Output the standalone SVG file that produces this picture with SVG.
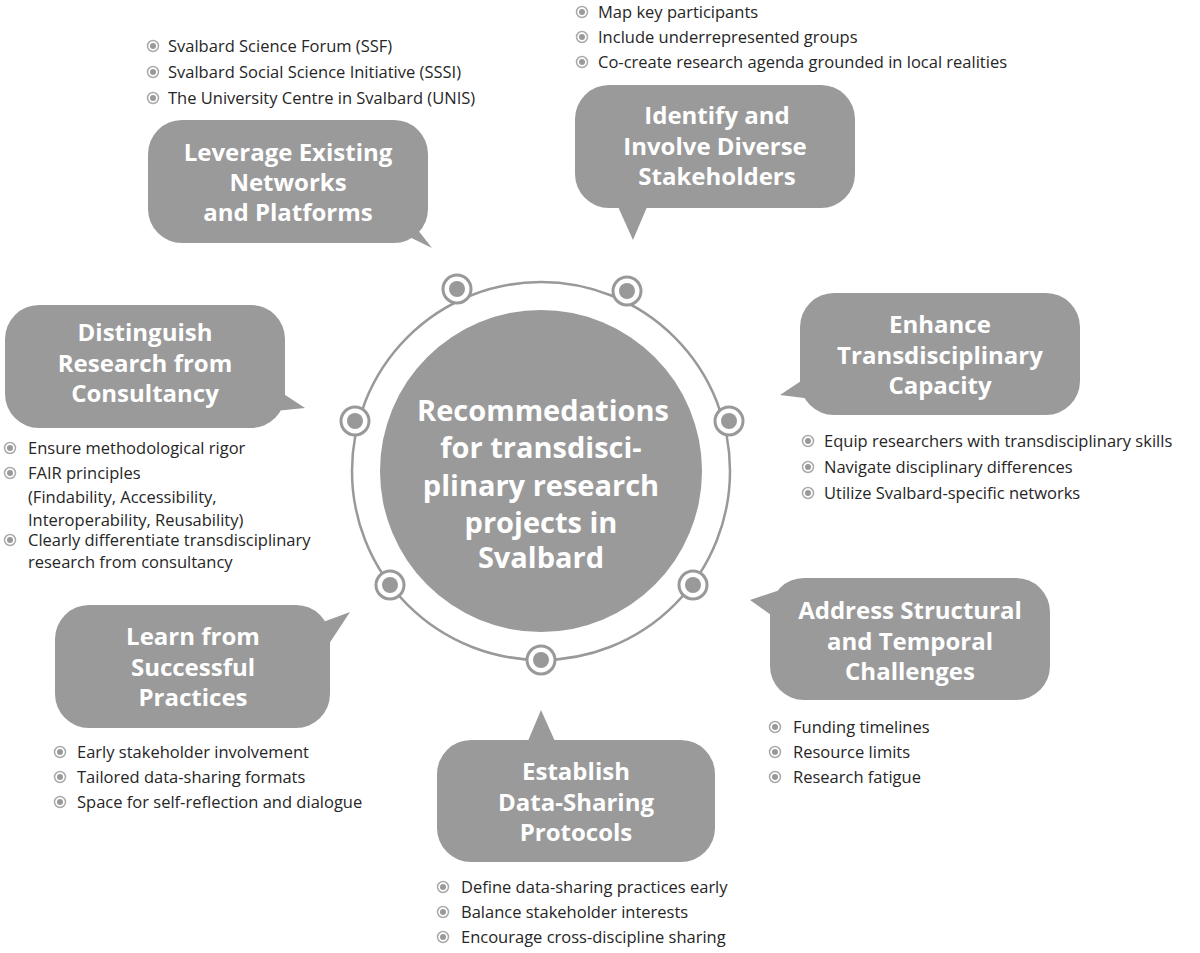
<svg xmlns="http://www.w3.org/2000/svg" width="1200" height="953" viewBox="0 0 1200 953">
<style>
.b{fill:#9a9a9a}
.t{font-family:"Open Sans",Lato,sans-serif;font-weight:bold;font-size:24px;fill:#fff;text-anchor:middle}
.c{font-family:"Open Sans",Lato,sans-serif;font-weight:bold;font-size:29px;fill:#fff;text-anchor:middle}
.l{font-family:"Open Sans",Lato,sans-serif;font-size:16.5px;fill:#262626}
.rn{fill:#fff;stroke:#999;stroke-width:3}
.rd{fill:#999}
</style>
<defs>
<g id="bu"><circle r="5.5" fill="#fff" stroke="#aaa" stroke-width="1.5"/><circle r="3" fill="#999"/></g>
<g id="rnode"><circle r="14" class="rn"/><circle r="8" class="rd"/></g>
</defs>
<g id="connectors">
<circle cx="541" cy="471" r="189" fill="none" stroke="#999" stroke-width="2.5"/>
</g>
<g id="center">
<circle cx="541" cy="471" r="161" class="b"/>
<text class="c" x="543" y="421">Recommedations</text>
<text class="c" x="541" y="458">for transdisci-</text>
<text class="c" x="541" y="496">plinary research</text>
<text class="c" x="541" y="533">projects in</text>
<text class="c" x="541" y="568">Svalbard</text>
</g>
<g id="ring-nodes">
<use href="#rnode" x="457" y="289"/><use href="#rnode" x="627" y="291"/>
<use href="#rnode" x="355" y="421"/><use href="#rnode" x="729" y="421"/>
<use href="#rnode" x="390" y="585"/><use href="#rnode" x="693" y="585"/>
<use href="#rnode" x="541" y="660"/>
</g>
<g id="n1">
<rect x="148" y="120" width="280" height="123" rx="34" class="b"/><path d="M395,230 L432,248 L410,220Z" class="b"/>
<text class="t" x="288" y="161">Leverage Existing</text><text class="t" x="288" y="191">Networks</text><text class="t" x="288" y="221">and Platforms</text>
<use href="#bu" x="153" y="46"/><text class="l" x="168" y="52">Svalbard Science Forum (SSF)</text>
<use href="#bu" x="153" y="72"/><text class="l" x="168" y="78">Svalbard Social Science Initiative (SSSI)</text>
<use href="#bu" x="153" y="98"/><text class="l" x="168" y="104">The University Centre in Svalbard (UNIS)</text>
</g>
<g id="n2">
<rect x="575" y="85" width="280" height="123" rx="34" class="b"/><path d="M615,200 L633,240 L650,200Z" class="b"/>
<text class="t" x="717" y="124">Identify and</text><text class="t" x="715" y="155">Involve Diverse</text><text class="t" x="717" y="185">Stakeholders</text>
<use href="#bu" x="582" y="12"/><text class="l" x="598" y="18">Map key participants</text>
<use href="#bu" x="582" y="37"/><text class="l" x="598" y="43">Include underrepresented groups</text>
<use href="#bu" x="582" y="62"/><text class="l" x="598" y="68">Co-create research agenda grounded in local realities</text>
</g>
<g id="n3">
<rect x="800" y="293" width="280" height="122" rx="34" class="b"/><path d="M810,375 L780,395 L820,400Z" class="b"/>
<text class="t" x="940" y="333">Enhance</text><text class="t" x="940" y="364">Transdisciplinary</text><text class="t" x="940" y="394">Capacity</text>
<use href="#bu" x="808" y="441"/><text class="l" x="824" y="447">Equip researchers with transdisciplinary skills</text>
<use href="#bu" x="808" y="467"/><text class="l" x="824" y="473">Navigate disciplinary differences</text>
<use href="#bu" x="808" y="493"/><text class="l" x="824" y="499">Utilize Svalbard-specific networks</text>
</g>
<g id="n4">
<rect x="5" y="305" width="280" height="123" rx="34" class="b"/><path d="M270,385 L305,408 L265,412Z" class="b"/>
<text class="t" x="145" y="341">Distinguish</text><text class="t" x="145" y="372">Research from</text><text class="t" x="145" y="402">Consultancy</text>
<use href="#bu" x="10" y="448"/><text class="l" x="28" y="454">Ensure methodological rigor</text>
<use href="#bu" x="10" y="473"/><text class="l" x="28" y="479">FAIR principles</text>
<text class="l" x="28" y="503">(Findability, Accessibility,</text>
<text class="l" x="28" y="526">Interoperability, Reusability)</text>
<use href="#bu" x="10" y="540"/><text class="l" x="28" y="546">Clearly differentiate transdisciplinary</text>
<text class="l" x="28" y="568">research from consultancy</text>
</g>
<g id="n5">
<rect x="55" y="605" width="275" height="123" rx="34" class="b"/><path d="M315,625 L350,612 L325,650Z" class="b"/>
<text class="t" x="193" y="645">Learn from</text><text class="t" x="193" y="676">Successful</text><text class="t" x="193" y="706">Practices</text>
<use href="#bu" x="60" y="752"/><text class="l" x="77" y="758">Early stakeholder involvement</text>
<use href="#bu" x="60" y="777"/><text class="l" x="77" y="783">Tailored data-sharing formats</text>
<use href="#bu" x="60" y="802"/><text class="l" x="77" y="808">Space for self-reflection and dialogue</text>
</g>
<g id="n6">
<rect x="770" y="578" width="280" height="122" rx="34" class="b"/><path d="M780,590 L750,600 L785,625Z" class="b"/>
<text class="t" x="910" y="619">Address Structural</text><text class="t" x="910" y="650">and Temporal</text><text class="t" x="910" y="680">Challenges</text>
<use href="#bu" x="775" y="727"/><text class="l" x="793" y="733">Funding timelines</text>
<use href="#bu" x="775" y="752"/><text class="l" x="793" y="758">Resource limits</text>
<use href="#bu" x="775" y="777"/><text class="l" x="793" y="783">Research fatigue</text>
</g>
<g id="n7">
<rect x="437" y="740" width="278" height="122" rx="34" class="b"/><path d="M525,748 L541,710 L558,748Z" class="b"/>
<text class="t" x="576" y="780">Establish</text><text class="t" x="576" y="811">Data-Sharing</text><text class="t" x="576" y="841">Protocols</text>
<use href="#bu" x="443" y="887"/><text class="l" x="461" y="893">Define data-sharing practices early</text>
<use href="#bu" x="443" y="912"/><text class="l" x="461" y="918">Balance stakeholder interests</text>
<use href="#bu" x="443" y="937"/><text class="l" x="461" y="943">Encourage cross-discipline sharing</text>
</g>
</svg>
